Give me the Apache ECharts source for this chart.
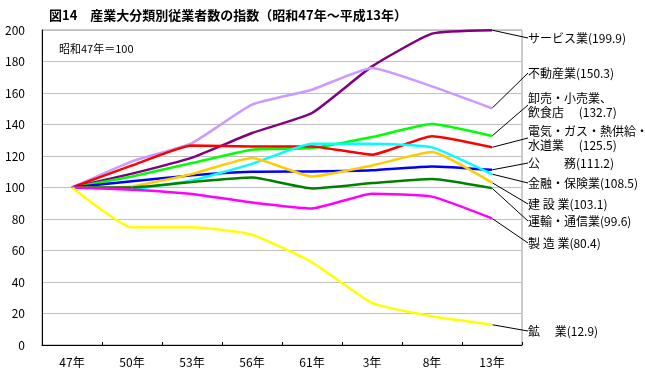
<!DOCTYPE html>
<html>
<head>
<meta charset="utf-8">
<script src="https://cdn.jsdelivr.net/npm/echarts@6/dist/echarts.min.js"></script>
<style>
  html, body { margin: 0; padding: 0; background: #fff; }
  #chart { width: 645px; height: 377px; }
</style>
</head>
<body>
<div id="chart"></div>
<script>
// 年次（昭和47年＝100）
const years = ['47年', '50年', '53年', '56年', '61年', '3年', '8年', '13年']

const service = [100, 108.8, 119, 134.6, 147.3, 176.9, 197.7, 199.9]
const realEstate = [100, 116.6, 128.2, 152.6, 162.1, 175.9, 164.2, 150.3]
const wholesale = [100, 107, 115.5, 124, 125, 132, 140.3, 132.7]
const utilities = [100, 114, 126.7, 126.1, 126.1, 120.8, 132.5, 125.5]
const publicService = [100, 103.9, 107.7, 110, 110.2, 110.9, 113.4, 111.2]
const finance = [100, 99.2, 104.5, 115, 127.8, 127.8, 125.5, 108.5]
const construction = [100, 100.7, 108.6, 118.7, 107, 114, 122.5, 103.1]
const transport = [100, 100, 103.5, 106.3, 99.4, 102.8, 105.4, 99.6]
const manufacturing = [100, 98.6, 95.9, 90.5, 86.7, 96.1, 94.2, 80.4]
const mining = [100, 74.7, 74.7, 70, 52.5, 26.7, 18.2, 12.9]

const yTicks = [0, 20, 40, 60, 80, 100, 120, 140, 160, 180, 200]

// 右側のラベル（表示位置 y は見た目合わせ）
const seriesList = [
  { data: service, color: '#800080', label: 'サービス業(199.9)', labelY: 38 },
  { data: realEstate, color: '#CC99FF', label: '不動産業(150.3)', labelY: 73 },
  { data: wholesale, color: '#00FF00', label: '卸売・小売業、\n飲食店　 (132.7)', labelY: 105 },
  { data: utilities, color: '#FF0000', label: '電気・ガス・熱供給・\n水道業　 (125.5)', labelY: 138 },
  { data: publicService, color: '#0000FF', label: '公　　務(111.2)', labelY: 163 },
  { data: finance, color: '#00FFFF', label: '金融・保険業(108.5)', labelY: 183 },
  { data: construction, color: '#FFCC00', label: '建 設 業(103.1)', labelY: 204 },
  { data: transport, color: '#008000', label: '運輸・通信業(99.6)', labelY: 221 },
  { data: manufacturing, color: '#FF00FF', label: '製 造 業(80.4)', labelY: 243 },
  { data: mining, color: '#FFFF00', label: '鉱　 業(12.9)', labelY: 331 }
]

const font = '"Noto Sans CJK JP", "Noto Sans", sans-serif'
const labelX = 528

const chart = echarts.init(document.getElementById('chart'))

const options = {
  animation: false,
  textStyle: { fontFamily: font },
  title: [
    {
      text: '図14　産業大分類別従業者数の指数（昭和47年～平成13年）',
      left: 44,
      top: 4,
      textStyle: { fontSize: 13, fontWeight: 'bold', color: '#000', fontFamily: font }
    },
    {
      text: '昭和47年＝100',
      left: 54,
      top: 38,
      textStyle: { fontSize: 11, fontWeight: 'normal', color: '#000', fontFamily: font }
    }
  ],
  grid: {
    left: 42,
    right: 123,
    top: 30,
    bottom: 32,
    show: true,
    borderColor: '#999',
    borderWidth: 1
  },
  xAxis: {
    type: 'category',
    data: years,
    boundaryGap: true,
    axisLine: { lineStyle: { color: '#000', width: 1 } },
    axisTick: { show: true, inside: true, length: 3, lineStyle: { color: '#000' } },
    axisLabel: { color: '#000', fontSize: 12, margin: 11 },
    splitLine: { show: false }
  },
  yAxis: {
    type: 'value',
    min: yTicks[0],
    max: yTicks[yTicks.length - 1],
    interval: 20,
    axisLine: { show: true, lineStyle: { color: '#000', width: 1 } },
    axisTick: { show: false },
    axisLabel: { color: '#000', fontSize: 12, margin: 17 },
    splitLine: { lineStyle: { color: '#C0C0C0', width: 1 } }
  },
  series: seriesList.map((s) => ({
    type: 'line',
    data: s.data.map((v, i) =>
      i === s.data.length - 1 ? { value: v, label: { show: true } } : v
    ),
    smooth: 0.15,
    symbol: 'circle',
    symbolSize: 1,
    showSymbol: true,
    itemStyle: { color: s.color },
    lineStyle: { color: s.color, width: 2.5 },
    label: {
      show: false,
      formatter: s.label,
      color: '#000',
      fontSize: 12,
      lineHeight: 14,
      fontFamily: font
    },
    labelLine: {
      show: true,
      lineStyle: { color: '#000', width: 1 }
    },
    labelLayout: (p) => {
      const px = p.rect.x + p.rect.width / 2
      const py = p.rect.y + p.rect.height / 2
      return {
        x: labelX,
        y: s.labelY,
        align: 'left',
        verticalAlign: 'middle',
        labelLinePoints: [[px, py], [labelX - 4, s.labelY], [labelX - 1, s.labelY]]
      }
    }
  }))
}

chart.setOption(options)
</script>
</body>
</html>
